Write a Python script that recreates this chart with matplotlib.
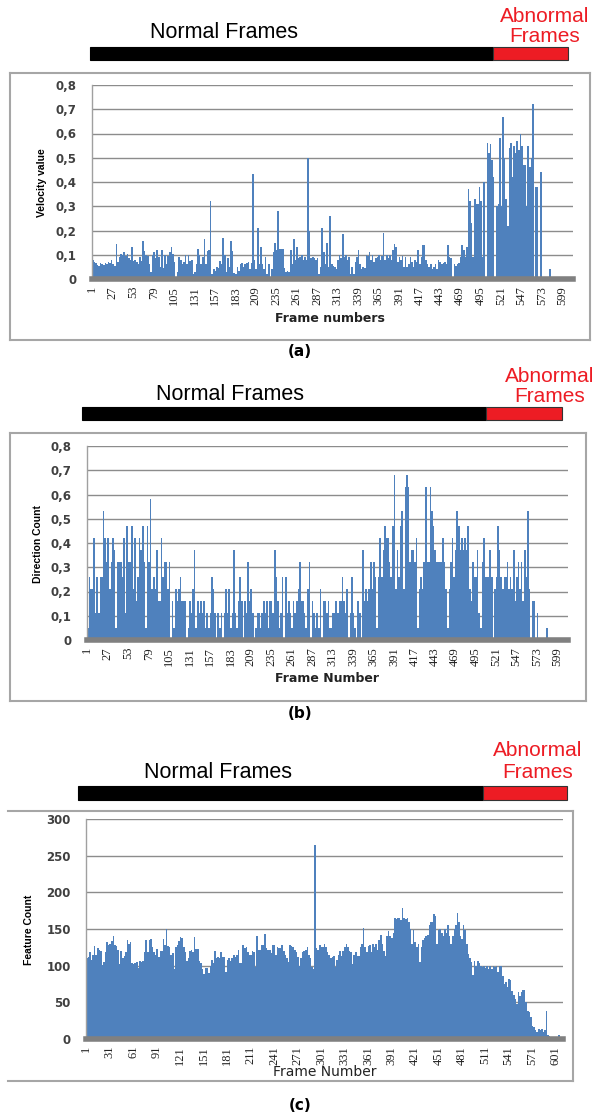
import matplotlib.pyplot as plt
from matplotlib.patches import Rectangle
from matplotlib.lines import Line2D

# values, one value per pair of frames (frames 1-2, 3-4, ...)
velocity = [
    0.078, 0.072, 0.065, 0.058, 0.055, 0.068, 0.062, 0.058, 0.064, 0.06, 0.072, 0.065, 0.08, 0.06, 0.052, 0.145, 0.07, 0.09, 0.105, 0.1,
    0.11, 0.095, 0.105, 0.085, 0.08, 0.13, 0.075, 0.08, 0.07, 0.06, 0.09, 0.075, 0.155, 0.115, 0.1, 0.095, 0.06, 0.03, 0.1, 0.11,
    0.085, 0.12, 0.09, 0.05, 0.12, 0.045, 0.1, 0.06, 0.095, 0.11, 0.13, 0.105, 0.07, 0.0, 0.03, 0.09, 0.08, 0.06, 0.07, 0.1,
    0.06, 0.1, 0.075, 0.08, 0.02, 0.03, 0.06, 0.125, 0.1, 0.06, 0.09, 0.165, 0.06, 0.115, 0.12, 0.32, 0.02, 0.04, 0.035, 0.05,
    0.045, 0.075, 0.06, 0.17, 0.1, 0.03, 0.085, 0.05, 0.155, 0.115, 0.025, 0.02, 0.05, 0.035, 0.06, 0.065, 0.05, 0.06, 0.065, 0.07,
    0.04, 0.065, 0.435, 0.08, 0.04, 0.21, 0.06, 0.13, 0.06, 0.04, 0.09, 0.02, 0.06, 0.01, 0.04, 0.11, 0.15, 0.12, 0.28, 0.125,
    0.125, 0.125, 0.045, 0.03, 0.035, 0.03, 0.12, 0.06, 0.165, 0.08, 0.13, 0.085, 0.09, 0.1, 0.08, 0.09, 0.08, 0.5, 0.2, 0.085,
    0.09, 0.085, 0.08, 0.085, 0.02, 0.05, 0.21, 0.11, 0.06, 0.15, 0.05, 0.26, 0.06, 0.055, 0.05, 0.04, 0.08, 0.1, 0.085, 0.185,
    0.09, 0.1, 0.08, 0.09, 0.02, 0.05, 0.02, 0.07, 0.09, 0.12, 0.06, 0.04, 0.05, 0.045, 0.1, 0.095, 0.11, 0.08, 0.1, 0.07,
    0.085, 0.09, 0.1, 0.08, 0.095, 0.19, 0.08, 0.1, 0.085, 0.1, 0.08, 0.12, 0.145, 0.13, 0.07, 0.09, 0.08, 0.095, 0.05, 0.09,
    0.05, 0.06, 0.09, 0.07, 0.05, 0.08, 0.07, 0.12, 0.06, 0.09, 0.14, 0.14, 0.08, 0.06, 0.05, 0.06, 0.04, 0.05, 0.06, 0.04,
    0.08, 0.07, 0.06, 0.065, 0.07, 0.06, 0.14, 0.09, 0.085, 0.01, 0.06, 0.055, 0.06, 0.065, 0.09, 0.14, 0.12, 0.09, 0.13, 0.37,
    0.32, 0.23, 0.09, 0.33, 0.31, 0.31, 0.38, 0.32, 0.09, 0.4, 0.0, 0.56, 0.52, 0.555, 0.49, 0.42, 0.0, 0.3, 0.31, 0.58,
    0.3, 0.67, 0.5, 0.33, 0.22, 0.54, 0.56, 0.42, 0.55, 0.52, 0.57, 0.53, 0.6, 0.55, 0.47, 0.47, 0.3, 0.55, 0.46, 0.5,
    0.72, 0.0, 0.38, 0.38, 0.0, 0.44, 0.0, 0.0, 0.0, 0.0, 0.0, 0.04, 0.0, 0.0, 0.0, 0.0, 0.0, 0.0, 0.0, 0.0,
    0.0, 0.0, 0.0, 0.0, 0.0, 0.0,
]

direction = [
    0.05, 0.26, 0.21, 0.21, 0.42, 0.11, 0.26, 0.11, 0.26, 0.26, 0.53, 0.42, 0.32, 0.42, 0.21, 0.32, 0.42, 0.37, 0.05, 0.32,
    0.32, 0.32, 0.26, 0.42, 0.11, 0.47, 0.32, 0.32, 0.47, 0.21, 0.42, 0.16, 0.26, 0.42, 0.37, 0.47, 0.32, 0.05, 0.47, 0.32,
    0.58, 0.21, 0.26, 0.21, 0.37, 0.16, 0.16, 0.42, 0.26, 0.32, 0.32, 0.21, 0.32, 0.0, 0.16, 0.05, 0.21, 0.16, 0.21, 0.26,
    0.16, 0.16, 0.16, 0.0, 0.05, 0.16, 0.11, 0.21, 0.37, 0.05, 0.16, 0.11, 0.16, 0.11, 0.16, 0.05, 0.11, 0.05, 0.11, 0.26,
    0.21, 0.11, 0.0, 0.11, 0.05, 0.11, 0.0, 0.11, 0.21, 0.11, 0.21, 0.05, 0.11, 0.37, 0.11, 0.05, 0.16, 0.26, 0.16, 0.0,
    0.16, 0.11, 0.32, 0.16, 0.21, 0.11, 0.0, 0.05, 0.11, 0.11, 0.05, 0.11, 0.16, 0.11, 0.16, 0.05, 0.16, 0.16, 0.11, 0.37,
    0.26, 0.16, 0.05, 0.11, 0.26, 0.0, 0.26, 0.11, 0.16, 0.11, 0.05, 0.16, 0.11, 0.16, 0.21, 0.32, 0.16, 0.16, 0.11, 0.05,
    0.21, 0.32, 0.0, 0.16, 0.11, 0.05, 0.11, 0.05, 0.21, 0.0, 0.16, 0.16, 0.11, 0.16, 0.05, 0.05, 0.11, 0.11, 0.16, 0.11,
    0.16, 0.16, 0.26, 0.16, 0.11, 0.21, 0.0, 0.11, 0.26, 0.11, 0.05, 0.0, 0.16, 0.11, 0.0, 0.37, 0.16, 0.21, 0.16, 0.21,
    0.32, 0.21, 0.32, 0.26, 0.05, 0.26, 0.42, 0.26, 0.37, 0.47, 0.42, 0.42, 0.32, 0.26, 0.47, 0.68, 0.21, 0.37, 0.26, 0.47,
    0.53, 0.21, 0.63, 0.68, 0.63, 0.32, 0.37, 0.37, 0.32, 0.42, 0.05, 0.21, 0.26, 0.21, 0.32, 0.63, 0.32, 0.32, 0.63, 0.53,
    0.47, 0.37, 0.32, 0.32, 0.32, 0.32, 0.42, 0.32, 0.21, 0.05, 0.21, 0.32, 0.42, 0.26, 0.37, 0.53, 0.47, 0.37, 0.42, 0.37,
    0.42, 0.37, 0.47, 0.21, 0.16, 0.32, 0.26, 0.26, 0.37, 0.11, 0.05, 0.32, 0.42, 0.26, 0.26, 0.26, 0.37, 0.26, 0.0, 0.21,
    0.26, 0.47, 0.37, 0.26, 0.21, 0.26, 0.26, 0.32, 0.21, 0.26, 0.21, 0.37, 0.16, 0.26, 0.32, 0.21, 0.32, 0.16, 0.37, 0.26,
    0.53, 0.21, 0.0, 0.16, 0.16, 0.0, 0.11, 0.0, 0.0, 0.0, 0.0, 0.0, 0.05, 0.0, 0.0, 0.0, 0.0, 0.0, 0.0, 0.0,
    0.0, 0.0, 0.0, 0.0, 0.0, 0.0,
]

features = [
    110, 112, 118, 108, 115, 127, 115, 124, 122, 120, 101, 105, 118, 132, 128, 130, 133, 140, 128, 127,
    122, 102, 120, 110, 113, 118, 135, 130, 132, 103, 102, 103, 105, 97, 106, 105, 107, 118, 135, 118,
    135, 137, 125, 118, 115, 123, 112, 120, 120, 136, 128, 150, 127, 125, 115, 117, 95, 125, 128, 133,
    139, 138, 125, 118, 107, 110, 120, 122, 118, 139, 123, 123, 107, 103, 95, 88, 97, 97, 90, 100,
    108, 103, 120, 110, 112, 110, 118, 112, 112, 92, 108, 110, 106, 110, 115, 112, 115, 122, 103, 103,
    128, 124, 126, 118, 115, 114, 120, 118, 98, 140, 122, 122, 128, 128, 143, 124, 122, 122, 117, 128,
    128, 114, 125, 124, 124, 128, 120, 115, 110, 105, 128, 127, 125, 122, 118, 112, 100, 110, 118, 120,
    122, 126, 115, 110, 98, 95, 265, 124, 122, 128, 125, 126, 130, 126, 118, 115, 110, 112, 113, 98,
    108, 115, 120, 113, 120, 125, 130, 125, 120, 118, 102, 115, 118, 113, 113, 125, 130, 152, 125, 118,
    127, 128, 118, 130, 126, 130, 122, 135, 142, 130, 120, 113, 140, 147, 140, 138, 145, 165, 163, 165,
    165, 162, 178, 165, 163, 165, 160, 150, 130, 148, 132, 125, 130, 105, 126, 135, 138, 140, 142, 155,
    160, 160, 170, 168, 130, 148, 150, 145, 140, 150, 145, 155, 140, 130, 140, 150, 155, 172, 160, 140,
    137, 155, 148, 130, 116, 110, 105, 87, 107, 100, 107, 103, 100, 98, 100, 97, 100, 96, 100, 95,
    100, 98, 100, 92, 100, 100, 86, 75, 78, 71, 82, 80, 66, 60, 55, 48, 64, 58, 64, 67,
    67, 50, 38, 37, 30, 18, 16, 12, 10, 14, 12, 13, 10, 12, 38, 6, 4, 3, 2, 2,
    2, 2, 6, 3, 0,
]

ticks_ab = [1, 27, 53, 79, 105, 131, 157, 183, 209, 235, 261, 287, 313, 339, 365,
            391, 417, 443, 469, 495, 521, 547, 573, 599]
ticks_c = [1, 31, 61, 91, 121, 151, 181, 211, 241, 271, 301, 331, 361, 391, 421,
           451, 481, 511, 541, 571, 601]
yticks_ab = [0, 0.1, 0.2, 0.3, 0.4, 0.5, 0.6, 0.7, 0.8]
ylabels_ab = ['0', '0,1', '0,2', '0,3', '0,4', '0,5', '0,6', '0,7', '0,8']
yticks_c = [0, 50, 100, 150, 200, 250, 300]

W, H = 600, 1117
BLUE = '#4f81bd'
GRID = '#8c8c8c'
AXIS = '#808080'
RED = '#ed1c24'
TXT = '#404040'

fig = plt.figure(figsize=(W / 100, H / 100), dpi=100)


def fx(x):
    return x / W


def fy(y):
    return 1 - y / H


def header(nx, text_y, bar_top, bar_bot, x0, xs, x1, ab_x, ab_y):
    fig.text(fx(nx), fy(text_y), 'Normal Frames', fontsize=15.5,
             family='Liberation Sans', ha='center', va='center', color='black')
    fig.text(fx(ab_x), fy(ab_y), 'Abnormal', fontsize=15, family='Liberation Sans',
             ha='center', va='center', color=RED)
    fig.text(fx(ab_x), fy(ab_y + 21), 'Frames', fontsize=15, family='Liberation Sans',
             ha='center', va='center', color=RED)
    h = (bar_bot - bar_top) / H
    fig.add_artist(Rectangle((fx(x0), fy(bar_bot)), (xs - x0) / W, h,
                             transform=fig.transFigure, facecolor='black', edgecolor='black', lw=0.8))
    fig.add_artist(Rectangle((fx(xs), fy(bar_bot)), (x1 - xs) / W, h,
                             transform=fig.transFigure, facecolor=RED, edgecolor='#333333', lw=0.8))


def frame_box(x0, y0, x1, y1, left=True):
    segs = [((x0, y0), (x1, y0)), ((x0, y1), (x1, y1)), ((x1, y0), (x1, y1))]
    if left:
        segs.append(((x0, y0), (x0, y1)))
    for (a, b) in segs:
        fig.add_artist(Line2D([fx(a[0]), fx(b[0])], [fy(a[1]), fy(b[1])],
                              transform=fig.transFigure, color='#a6a6a6', lw=1.5))


def panel(l, t, r, b, values, n, ymax, yticks, ylabels, xticks, tickfont, yfont):
    ax = fig.add_axes([fx(l), fy(b), (r - l) / W, (b - t) / H])
    starts = list(range(1, n + 1, 2))
    ax.bar([s - 0.5 for s in starts], values, width=2, align='edge', color=BLUE, lw=0, zorder=2)
    ax.set_xlim(0.5, n + 0.5)
    ax.set_ylim(0, ymax)
    ax.set_yticks(yticks)
    ax.set_yticklabels(ylabels, fontsize=8.5, fontweight='bold', color=TXT, family=yfont)
    ax.set_xticks(xticks)
    ax.set_xticklabels([str(t) for t in xticks], rotation=90, fontsize=9, family=tickfont, color='#222222')
    ax.tick_params(axis='y', length=0, pad=11)
    ax.tick_params(axis='x', length=0, pad=5)
    ax.yaxis.grid(True, color=GRID, lw=1, zorder=0)
    ax.set_axisbelow(True)
    for s in ['top', 'right']:
        ax.spines[s].set_visible(False)
    ax.spines['left'].set_color('#a0a0a0')
    ax.spines['left'].set_linewidth(1)
    ax.spines['bottom'].set_color(AXIS)
    ax.spines['bottom'].set_linewidth(4)
    ax.spines['bottom'].set_zorder(3)
    return ax


# (a)
header(224, 33, 47, 60, 90, 493, 568, 545, 16)
frame_box(10, 73, 590, 340)
panel(92, 85, 573, 279, velocity, 612, 0.8, yticks_ab, ylabels_ab, ticks_ab, 'Liberation Serif', 'DejaVu Sans')
fig.text(fx(42), fy(183), 'Velocity value', rotation=90, fontsize=7.5, fontweight='bold',
         family='Liberation Sans', ha='center', va='center')
fig.text(fx(330), fy(319), 'Frame numbers', fontsize=9, fontweight='bold',
         family='DejaVu Sans', ha='center', va='center', color='#222222')
fig.text(fx(300), fy(352), '(a)', fontsize=11, fontweight='bold', ha='center', va='center')

# (b)
header(230, 395, 407, 420, 82, 486, 562, 550, 376)
frame_box(10, 433, 586, 701)
panel(87, 446, 568, 640, direction, 612, 0.8, yticks_ab, ylabels_ab, ticks_ab, 'Liberation Serif', 'DejaVu Sans')
fig.text(fx(38), fy(544), 'Direction Count', rotation=90, fontsize=7.5, fontweight='bold',
         family='Liberation Sans', ha='center', va='center')
fig.text(fx(327), fy(679), 'Frame Number', fontsize=9, fontweight='bold',
         family='DejaVu Sans', ha='center', va='center', color='#222222')
fig.text(fx(300), fy(713), '(b)', fontsize=11, fontweight='bold', ha='center', va='center')

# (c)
header(218, 773, 786, 800, 78, 483, 567, 538, 751)
frame_box(8, 811, 573, 1081, left=False)
panel(86, 819, 563, 1039, features, 610, 300, yticks_c, [str(v) for v in yticks_c], ticks_c,
      'Liberation Serif', 'DejaVu Sans')
fig.text(fx(29), fy(930), 'Feature Count', rotation=90, fontsize=7.5, fontweight='bold',
         family='Liberation Sans', ha='center', va='center')
fig.text(fx(325), fy(1072), 'Frame Number', fontsize=10,
         family='DejaVu Sans', ha='center', va='center', color='#222222')
fig.text(fx(300), fy(1105), '(c)', fontsize=11, fontweight='bold', ha='center', va='center')

fig.savefig('out.png', dpi=100)
